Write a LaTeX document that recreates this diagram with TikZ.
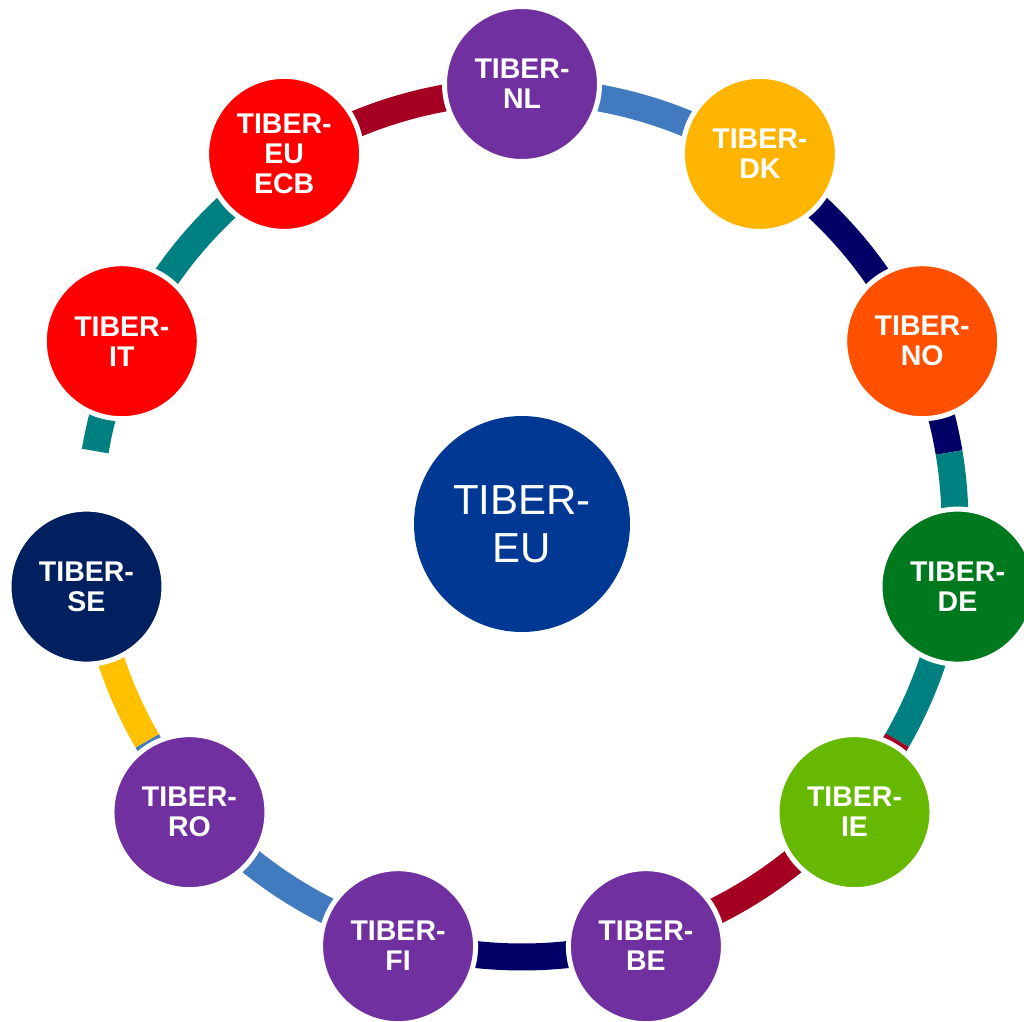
\documentclass[tikz,border=0pt]{standalone}
\usepackage{fontspec}
\setmainfont{Liberation Sans}
\definecolor{cpurple}{HTML}{7030A0}
\definecolor{camber}{HTML}{FFB400}
\definecolor{corange}{HTML}{FF5000}
\definecolor{cdgreen}{HTML}{00781E}
\definecolor{clgreen}{HTML}{66B900}
\definecolor{cnavyn}{HTML}{002060}
\definecolor{cred}{HTML}{FF0000}
\definecolor{ccenter}{HTML}{003894}
\definecolor{adred}{HTML}{A50021}
\definecolor{ablue}{RGB}{65,122,190}
\definecolor{anavy}{HTML}{000066}
\definecolor{ateal}{HTML}{008080}
\definecolor{ayellow}{HTML}{FFC000}
\tikzset{
  member/.style={circle, draw=white, line width=5pt, minimum size=155pt, inner sep=0pt,
    text=white, align=center, font=\fontsize{28.5}{30}\selectfont\bfseries},
  hub/.style={circle, fill=ccenter, minimum size=216pt, inner sep=0pt,
    text=white, align=center, font=\fontsize{42}{48}\selectfont},
  ring/.style={line width=27pt, line cap=butt}
}
\newcommand{\ringarc}[3]{\draw[ring, #1] (#2:433pt) arc[start angle=#2, end angle=#3, radius=433pt];}
\begin{document}
\begin{tikzpicture}
\useasboundingbox (-522pt,-497pt) rectangle (502pt,524pt);
% ring segments
\ringarc{adred}{122.73}{90}
\ringarc{ablue}{90}{57.27}
\ringarc{anavy}{57.27}{24.55}
\ringarc{anavy}{24.55}{9.5}
\ringarc{ateal}{9.5}{-8.18}
\ringarc{ateal}{-8.18}{-29.95}
\ringarc{adred}{-29.95}{-40.91}
\ringarc{adred}{-40.91}{-73.64}
\ringarc{anavy}{-73.64}{-106.36}
\ringarc{ablue}{-106.36}{-139.09}
\ringarc{ablue}{-139.09}{-149.95}
\ringarc{ayellow}{-149.95}{-171.82}
\ringarc{ateal}{170.3}{155.45}
\ringarc{ateal}{155.45}{122.73}
% nodes
\node[hub] (eu) at (0,0) {TIBER-\\EU};
\node[member, fill=cpurple] (nl) at (90:440pt) {TIBER-\\NL};
\node[member, fill=camber] (dk) at (57.27:440pt) {TIBER-\\DK};
\node[member, fill=corange] (no) at (24.55:440pt) {TIBER-\\NO};
\node[member, fill=cdgreen] (de) at (-8.18:440pt) {TIBER-\\DE};
\node[member, fill=clgreen] (ie) at (-40.91:440pt) {TIBER-\\IE};
\node[member, fill=cpurple] (be) at (-73.64:440pt) {TIBER-\\BE};
\node[member, fill=cpurple] (fi) at (-106.36:440pt) {TIBER-\\FI};
\node[member, fill=cpurple] (ro) at (-139.09:440pt) {TIBER-\\RO};
\node[member, fill=cnavyn] (se) at (-171.82:440pt) {TIBER-\\SE};
\node[member, fill=cred] (it) at (155.45:440pt) {TIBER-\\IT};
\node[member, fill=cred] (ecb) at (122.73:440pt) {TIBER-\\EU\\ECB};
\end{tikzpicture}
\end{document}
